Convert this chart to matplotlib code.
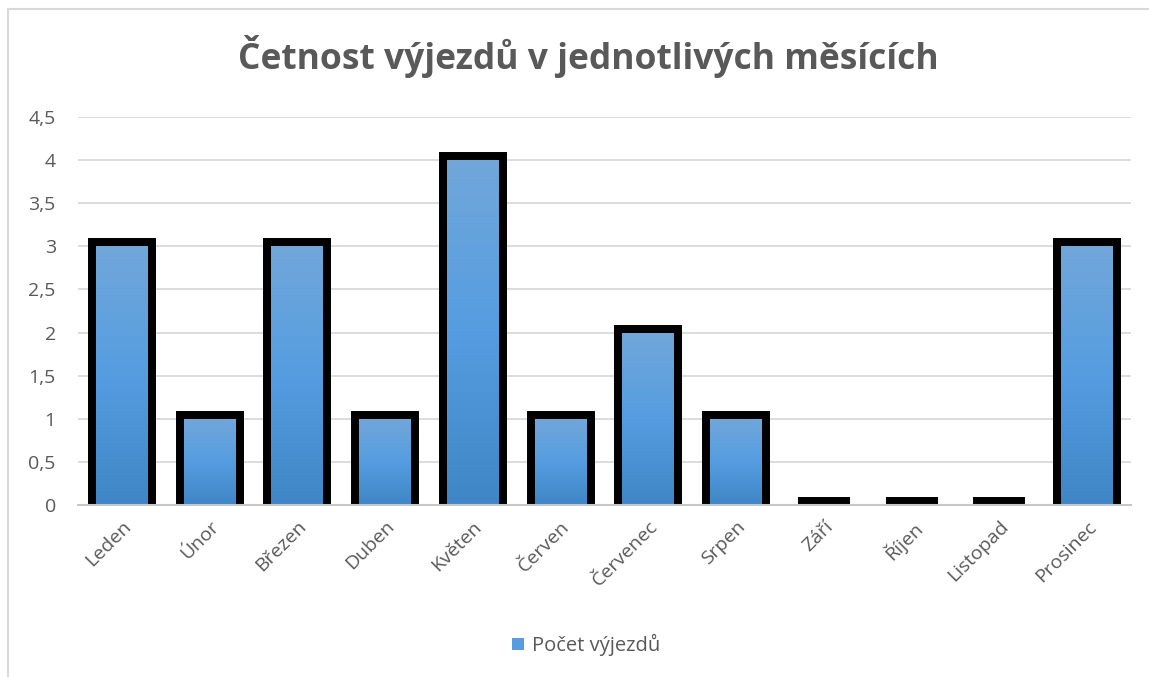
import numpy as np
import matplotlib
matplotlib.use('Agg')
import matplotlib.pyplot as plt
from matplotlib.colors import LinearSegmentedColormap
from matplotlib.patches import Rectangle, Patch
from matplotlib.ticker import FuncFormatter

plt.rcParams['font.family'] = ['Open Sans', 'DejaVu Sans']

# data
months = ['Leden', 'Únor', 'Březen', 'Duben', 'Květen', 'Červen',
          'Červenec', 'Srpen', 'Září', 'Říjen', 'Listopad', 'Prosinec']
counts = [3, 1, 3, 1, 4, 1, 2, 1, 0, 0, 0, 3]
title = 'Četnost výjezdů v jednotlivých měsících'
series_name = 'Počet výjezdů'
yticks = [0, 0.5, 1, 1.5, 2, 2.5, 3, 3.5, 4, 4.5]

text_gray = '#595959'
grad = LinearSegmentedColormap.from_list('bluegrad', ['#3f86c6', '#559de0', '#71a7da'])

fig = plt.figure(figsize=(11.49, 6.77), dpi=100)
# chart border (light gray frame, cut at the right/bottom)
fig.patches.append(Rectangle((8 / 1149, -0.1), 1.2, 1 - 9 / 677 + 0.1,
                             transform=fig.transFigure, fill=False,
                             edgecolor='#d9d9d9', linewidth=1.5))

ax = fig.add_axes([78 / 1149, 1 - 505 / 677, (1131 - 78) / 1149, (505 - 117) / 677])
x = np.arange(len(months))
bw = 0.59

# thick black outline drawn behind the fill, so it sits outside the bar
ax.bar(x, counts, width=bw, facecolor='black', edgecolor='black',
       linewidth=11.5, zorder=2)
fill_bars = ax.bar(x, counts, width=bw, facecolor='none', edgecolor='none', zorder=3)

g = np.linspace(0, 1, 256).reshape(-1, 1)
for b in fill_bars:
    x0, y0 = b.get_xy()
    w, h = b.get_width(), b.get_height()
    if h <= 0:
        continue
    im = ax.imshow(g, extent=[x0, x0 + w, y0, y0 + h], origin='lower',
                   aspect='auto', cmap=grad, zorder=3)
    im.set_clip_path(b)

ax.set_xlim(-0.5, len(months) - 0.5)
ax.set_ylim(0, 4.5)
ax.set_yticks(yticks)
ax.yaxis.set_major_formatter(FuncFormatter(lambda v, p: ('%g' % v).replace('.', ',')))
ax.set_xticks(x)
ax.set_xticklabels(months, rotation=45, ha='right', rotation_mode='anchor')
ax.tick_params(axis='both', length=0, colors=text_gray, labelsize=14)
ax.tick_params(axis='y', pad=16)
ax.tick_params(axis='x', pad=9)
ax.grid(axis='y', color='#d9d9d9', linewidth=1.3, zorder=0)
ax.set_axisbelow(True)
for s in ['left', 'right', 'top']:
    ax.spines[s].set_visible(False)
ax.spines['bottom'].set_color('#c8c8c8')
ax.spines['bottom'].set_linewidth(1.5)
ax.spines['bottom'].set_zorder(4)

fig.text(0.512, 1 - 57 / 677, title, ha='center', va='center',
         fontsize=25.5, fontweight='bold', color=text_gray)

fig.legend(handles=[Patch(facecolor='#559de0', edgecolor='none', label=series_name)],
           loc='center', bbox_to_anchor=(0.51, 1 - 645 / 677), frameon=False,
           fontsize=14.5, labelcolor=text_gray, handlelength=0.6, handleheight=0.6,
           handletextpad=0.4)

fig.savefig('out.png', dpi=100)
